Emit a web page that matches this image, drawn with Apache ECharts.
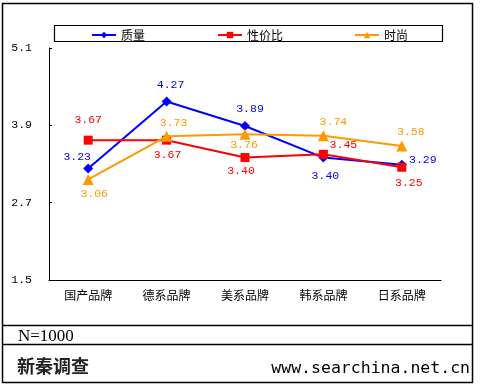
<!DOCTYPE html>
<html>
<head>
<meta charset="utf-8">
<script src="https://cdn.jsdelivr.net/npm/echarts@6/dist/echarts.min.js"></script>
<style>
html,body{margin:0;padding:0;background:#fff;}
#c{width:480px;height:386px;}
</style>
</head>
<body>
<div id="c"></div>
<script>
const categories = ['国产品牌', '德系品牌', '美系品牌', '韩系品牌', '日系品牌'];
const seriesNames = ['质量', '性价比', '时尚'];
const quality = [3.23, 4.27, 3.89, 3.40, 3.29];
const value = [3.67, 3.67, 3.40, 3.45, 3.25];
const fashion = [3.06, 3.73, 3.76, 3.74, 3.58];
const yTicks = [1.5, 2.7, 3.9, 5.1];
const sampleNote = 'N=1000';
const brand = '新秦调查';
const site = 'www.searchina.net.cn';

const colors = ['#0000FF', '#FF0000', '#FF9900'];
const symbols = ['diamond', 'rect', 'triangle'];
const symbolSizes = [10, 9, 11];
// label offsets (style) relative to the point centre
const labelOffsets = [
  [[-11, -12], [4, -17], [5, -17], [2, 18], [21, -5]],
  [[0, -20], [1, 15], [-4, 13], [20, -9], [7, 16]],
  [[6, 14], [7, -13], [-1, 11], [10, -14], [9, -14]]
];
const allData = [quality, value, fashion];
const monoFont = '"Liberation Mono", "DejaVu Sans Mono", monospace';
const cjkFont = '"Noto Sans CJK SC", sans-serif';

const series = allData.map((arr, si) => ({
  name: seriesNames[si],
  type: 'line',
  data: arr.map((v, i) => ({
    value: v,
    label: { offset: labelOffsets[si][i] }
  })),
  symbol: symbols[si],
  symbolSize: symbolSizes[si],
  showAllSymbol: true,
  lineStyle: { color: colors[si], width: 2 },
  itemStyle: { color: colors[si] },
  label: {
    show: true,
    position: 'inside',
    color: colors[si],
    fontFamily: monoFont,
    fontSize: 11.5,
    formatter: p => p.value.toFixed(2)
  },
  emphasis: { disabled: true },
  z: 2 + si
}));

const legendX = [91, 217, 354];
const legends = seriesNames.map((n, i) => ({
  data: [n],
  left: legendX[i],
  top: 29,
  padding: 0,
  itemWidth: 24,
  itemHeight: 8,
  textStyle: { fontFamily: cjkFont, fontSize: 12, color: '#000' },
  selectedMode: false
}));

const chart = echarts.init(document.getElementById('c'), null, { renderer: 'canvas' });
chart.setOption({
  backgroundColor: '#fff',
  animation: false,
  legend: legends,
  grid: { left: 49, top: 48, right: 39, bottom: 106, containLabel: false },
  xAxis: {
    type: 'category',
    data: categories,
    boundaryGap: true,
    axisLine: { lineStyle: { color: '#000', width: 1 } },
    axisTick: { inside: true, length: 3, lineStyle: { color: '#000' } },
    axisLabel: { color: '#000', fontFamily: cjkFont, fontSize: 12, margin: 9 },
    splitLine: { show: false }
  },
  yAxis: {
    type: 'value',
    min: yTicks[0],
    max: yTicks[yTicks.length - 1],
    axisLine: { show: true, lineStyle: { color: '#000', width: 1 } },
    axisTick: { show: true, inside: true, length: 3, lineStyle: { color: '#000' }, customValues: yTicks },
    axisLabel: { color: '#000', fontFamily: monoFont, fontSize: 11.5, margin: 17, customValues: yTicks,
      formatter: v => Number(v).toFixed(1) },
    splitLine: { show: false }
  },
  series: series,
  graphic: [
    { type: 'rect', shape: { x: 2.5, y: 3.5, width: 470, height: 379 }, style: { fill: null, stroke: '#000', lineWidth: 1.5 }, silent: true },
    { type: 'rect', shape: { x: 54.5, y: 25.5, width: 388, height: 16 }, style: { fill: null, stroke: '#000', lineWidth: 1.2 }, silent: true, z: -1 },
    { type: 'line', shape: { x1: 2, y1: 325.5, x2: 473, y2: 325.5 }, style: { stroke: '#000', lineWidth: 1.3 }, silent: true },
    { type: 'line', shape: { x1: 2, y1: 344.5, x2: 473, y2: 344.5 }, style: { stroke: '#000', lineWidth: 1.3 }, silent: true },
    { type: 'text', left: 18, top: 328, style: { text: sampleNote, font: '17px "Liberation Serif", serif', fill: '#000' }, silent: true },
    { type: 'text', left: 17, top: 357, style: { text: brand, font: 'bold 18px "Noto Sans CJK SC", sans-serif', fill: '#222' }, silent: true },
    { type: 'text', right: 10, top: 360, style: { text: site, font: '16.5px "DejaVu Sans Mono", monospace', fill: '#000' }, silent: true }
  ]
});
</script>
</body>
</html>
